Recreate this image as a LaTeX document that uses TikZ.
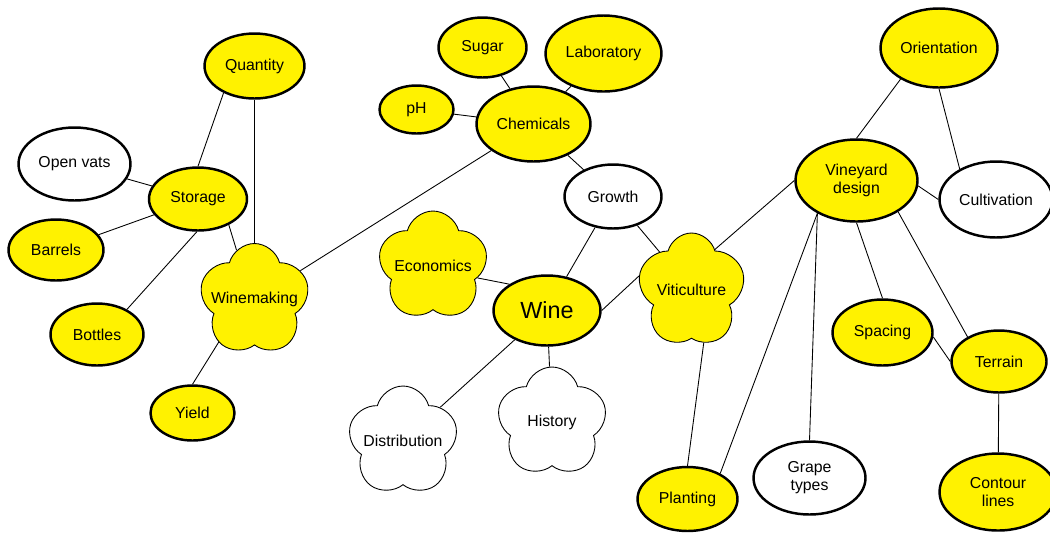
\documentclass[tikz,border=0pt]{standalone}
\usepackage{fontspec}
\setmainfont{Liberation Sans}
\usetikzlibrary{shapes.geometric,shapes.symbols}

\begin{document}
\begin{tikzpicture}[x=0.02cm, y=-0.02cm,
  every node/.style={font=\fontsize{9}{10.2}\selectfont, align=center},
  bub/.style={ellipse, draw, line width=1.4pt, inner sep=1pt},
  puff/.style={cloud, cloud puffs=5, cloud puff arc=150, aspect=1, draw, line width=0.5pt, inner sep=0pt, shape border rotate=20},
  link/.style={line width=0.5pt}]

\useasboundingbox (0,0) rectangle (1050,532);

% winemaking side
\node[bub, fill=yellow, minimum width=2.0cm, minimum height=1.3cm] (quantity) at (254.5,66) {Quantity};
\node[bub, fill=white, minimum width=2.24cm, minimum height=1.46cm] (openvats) at (74.5,164) {Open vats};
\node[bub, fill=yellow, minimum width=1.96cm, minimum height=1.26cm] (storage) at (198,199) {Storage};
\node[bub, fill=yellow, minimum width=1.9cm, minimum height=1.22cm] (barrels) at (56,250) {Barrels};
\node[bub, fill=yellow, minimum width=1.86cm, minimum height=1.24cm] (bottles) at (97,334.5) {Bottles};
\node[bub, fill=yellow, minimum width=1.68cm, minimum height=1.1cm] (yield) at (192.5,413) {Yield};
\node[puff, fill=yellow, minimum width=2.2cm, minimum height=2.24cm, label={center:Winemaking}] (winemaking) at (254.5,299.5) {};

% chemicals
\node[bub, fill=yellow, minimum width=1.76cm, minimum height=1.2cm] (sugar) at (482.5,47.5) {Sugar};
\node[bub, fill=yellow, minimum width=2.32cm, minimum height=1.52cm] (laboratory) at (603.5,53.5) {Laboratory};
\node[bub, fill=yellow, minimum width=1.48cm, minimum height=0.96cm] (ph) at (416.5,109.5) {pH};
\node[bub, fill=yellow, minimum width=2.28cm, minimum height=1.5cm] (chemicals) at (533.5,124) {Chemicals};
\node[bub, fill=white, minimum width=1.94cm, minimum height=1.28cm] (growth) at (613,196.5) {Growth};

% centre
\node[bub, fill=yellow, minimum width=2.14cm, minimum height=1.4cm, font=\fontsize{13.3}{15}\selectfont] (wine) at (547,310.5) {Wine};
\node[puff, fill=yellow, minimum width=2.2cm, minimum height=2.2cm, label={center:Economics}] (economics) at (433,266) {};
\node[puff, fill=white, minimum width=2.2cm, minimum height=2.2cm, label={center:Distribution}] (distribution) at (403,441) {};
\node[puff, fill=white, minimum width=2.2cm, minimum height=2.2cm, label={center:History}] (history) at (552,422) {};
\node[puff, fill=yellow, minimum width=2.16cm, minimum height=2.28cm, label={center:Viticulture}] (viticulture) at (691.5,290) {};

% vineyard side
\node[bub, fill=yellow, minimum width=2.34cm, minimum height=1.58cm] (orientation) at (939,48) {Orientation};
\node[bub, fill=yellow, minimum width=2.44cm, minimum height=1.64cm] (vineyard) at (856.5,180.5) {Vineyard\\design};
\node[bub, fill=white, minimum width=2.26cm, minimum height=1.52cm] (cultivation) at (996,199.5) {Cultivation};
\node[bub, fill=yellow, minimum width=2.0cm, minimum height=1.32cm] (spacing) at (882.5,332.5) {Spacing};
\node[bub, fill=yellow, minimum width=1.9cm, minimum height=1.24cm] (terrain) at (999,361.5) {Terrain};
\node[bub, fill=yellow, minimum width=2.34cm, minimum height=1.54cm] (contour) at (998,492) {Contour\\lines};
\node[bub, fill=white, minimum width=2.24cm, minimum height=1.46cm] (grape) at (809.5,478) {Grape\\types};
\node[bub, fill=yellow, minimum width=2.0cm, minimum height=1.28cm] (planting) at (687.5,499) {Planting};

% links
\draw[link] (quantity.221) -- (storage.north);
\draw[link] (quantity) -- (winemaking);
\draw[link] (openvats) -- (storage);
\draw[link] (storage) -- (barrels);
\draw[link] (storage.268) -- (bottles.40);
\draw[link] (storage.320) -- (winemaking.110);
\draw[link] (winemaking.230) -- (yield.north);
\draw[link] (winemaking) -- (chemicals);
\draw[link] (chemicals) -- (sugar);
\draw[link] (chemicals) -- (ph);
\draw[link] (chemicals) -- (laboratory);
\draw[link] (chemicals) -- (growth);
\draw[link] (growth) -- (wine);
\draw[link] (growth) -- (viticulture);
\draw[link] (economics.345) -- (wine.145);
\draw[link] (wine.east) -- (viticulture.165);
\draw[link] (wine) -- (distribution);
\draw[link] (wine) -- (history);
\draw[link] (viticulture.60) -- (vineyard.west);
\draw[link] (viticulture.283) -- (planting.north);
\draw[link] (vineyard.220) -- (planting.38);
\draw[link] (vineyard.220) -- (grape.north);
\draw[link] (vineyard.south) -- (spacing.north);
\draw[link] (vineyard.323) -- (terrain.142);
\draw[link] (vineyard.355) -- (cultivation.west);
\draw[link] (vineyard.north) -- (orientation.219);
\draw[link] (orientation.south) -- (cultivation.140);
\draw[link] (spacing.355) -- (terrain.west);
\draw[link] (terrain) -- (contour);

\end{tikzpicture}
\end{document}
